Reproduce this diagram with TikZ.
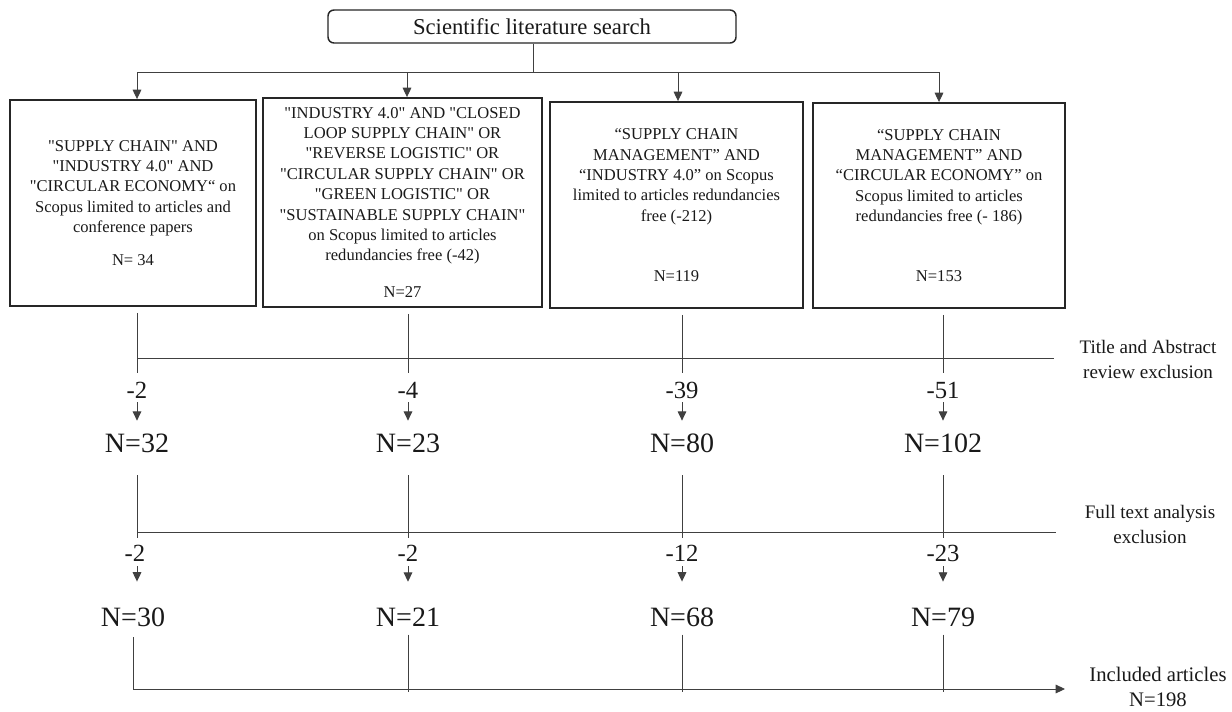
\documentclass[tikz,border=0pt]{standalone}
\usepackage{fontspec}
\setmainfont{Liberation Serif}
\usetikzlibrary{arrows.meta}
\newcommand{\sq}{\textquotedbl}
\begin{document}
\begin{tikzpicture}[x=0.75pt,y=-0.75pt,
  every node/.style={text=black!90},
  query/.style={draw=black!85, line width=1.4pt, align=center,
    font=\fontsize{12.4}{15.3}\selectfont, inner sep=2pt},
  search/.style={draw=black!85, line width=1.1pt, rounded corners=4.5pt,
    minimum width=306pt, minimum height=24.75pt,
    font=\fontsize{17}{20}\selectfont},
  link/.style={draw=black!75, line width=0.7pt},
  arr/.style={link, -{Triangle[length=7pt,width=6.5pt]}},
  drop/.style={font=\fontsize{18.5}{22}\selectfont, inner sep=0pt},
  count/.style={font=\fontsize{21}{25}\selectfont, inner sep=0pt},
  stage/.style={align=center, inner sep=0pt, font=\fontsize{14.3}{18.75}\selectfont}]

\useasboundingbox[fill=white] (0,0) rectangle (1232,711);

% ---- search and query boxes ----
\node[search] (search) at (532,26.5) {Scientific literature search};

\node[query, minimum width=184.5pt, minimum height=154.5pt] (q1) at (133,203)
  {\sq SUPPLY CHAIN\sq{} AND\\
   \sq INDUSTRY 4.0\sq{} AND\\
   \sq CIRCULAR ECONOMY“ on\\
   Scopus limited to articles and\\
   conference papers\\[9.5pt]
   N= 34};
\node[query, minimum width=209.25pt, minimum height=156.75pt] (q2) at (402.5,202.5)
  {\sq INDUSTRY 4.0\sq{} AND \sq CLOSED\\
   LOOP SUPPLY CHAIN\sq{} OR\\
   \sq REVERSE LOGISTIC\sq{} OR\\
   \sq CIRCULAR SUPPLY CHAIN\sq{} OR\\
   \sq GREEN LOGISTIC\sq{} OR\\
   \sq SUSTAINABLE SUPPLY CHAIN\sq\\
   on Scopus limited to articles\\
   redundancies free (-42)\\[12.5pt]
   N=27};
\node[query, minimum width=189.75pt, minimum height=154.5pt] (q3) at (676.5,205)
  {“SUPPLY CHAIN\\
   MANAGEMENT” AND\\
   “INDUSTRY 4.0” on Scopus\\
   limited to articles redundancies\\
   free (-212)\\[29.7pt]
   N=119};
\node[query, minimum width=189pt, minimum height=153.75pt] (q4) at (939,205.5)
  {“SUPPLY CHAIN\\
   MANAGEMENT” AND\\
   “CIRCULAR ECONOMY” on\\
   Scopus limited to articles\\
   redundancies free (- 186)\\[29.7pt]
   N=153};

% ---- branch from the search box ----
\coordinate (split) at (533,72);
\coordinate (a1) at (137,0);
\coordinate (a2) at (407,0);
\coordinate (a3) at (678,0);
\coordinate (a4) at (939,0);
\draw[link] (search.south -| split) -- (split);
\draw[link] (a1 |- split) -- (a4 |- split);
\foreach \i in {1,...,4}
  \draw[arr] (a\i |- split) -- (a\i |- q\i.north);

% ---- stage labels ----
\node[stage] (ta) at (1148,359.5) {Title and Abstract\\review exclusion};
\node[stage] (fa) at (1150,524.5) {Full text analysis\\exclusion};
\node[stage, font=\fontsize{15.5}{18.75}\selectfont] (inc) at (1158,687) {Included articles\\N=198};

\coordinate (ta-end) at (1054,358);
\coordinate (fa-end) at (1056,532);
\coordinate (tip) at (1065,689);

% ---- columns ----
\coordinate (c1) at (137,0);
\coordinate (c2) at (408,0);
\coordinate (c3) at (682,0);
\coordinate (c4) at (943,0);

\node[drop]  (m1) at (137,390) {-2};
\node[drop]  (m2) at (408,390) {-4};
\node[drop]  (m3) at (682,390) {-39};
\node[drop]  (m4) at (943,390) {-51};
\node[count] (n1) at (137,443) {N=32};
\node[count] (n2) at (408,443) {N=23};
\node[count] (n3) at (682,443) {N=80};
\node[count] (n4) at (943,443) {N=102};
\node[drop]  (e1) at (135,553) {-2};
\node[drop]  (e2) at (408,553) {-2};
\node[drop]  (e3) at (682,553) {-12};
\node[drop]  (e4) at (943,553) {-23};
\node[count] (f1) at (133,617) {N=30};
\node[count] (f2) at (408,617) {N=21};
\node[count] (f3) at (682,617) {N=68};
\node[count] (f4) at (943,617) {N=79};

% screening stage lines
\draw[link] (c1 |- ta-end) -- (ta-end);
\draw[link] (c1 |- fa-end) -- (fa-end);
\foreach \i in {1,...,4} {
  \draw[link] ([yshift=-4.5pt]q\i.south -| c\i) -- ([yshift=6.5pt]m\i.north -| c\i);
  \draw[arr]  ([yshift=-2.8pt]m\i.south -| c\i) -- ([yshift=9.5pt]n\i.north -| c\i);
  \draw[link] ([yshift=-17pt]n\i.south -| c\i) -- ([yshift=5pt]e\i.north -| c\i);
  \draw[arr]  ([yshift=-3.5pt]e\i.south -| c\i) -- ([yshift=19.3pt]f\i.north -| c\i);
}

% included articles
\draw[arr] ([yshift=-8pt]f1.south) |- (tip);
\foreach \i in {2,3,4}
  \draw[link] ([yshift=-6pt]f\i.south) -- ([yshift=-2.2pt]f\i |- tip);

\end{tikzpicture}
\end{document}
